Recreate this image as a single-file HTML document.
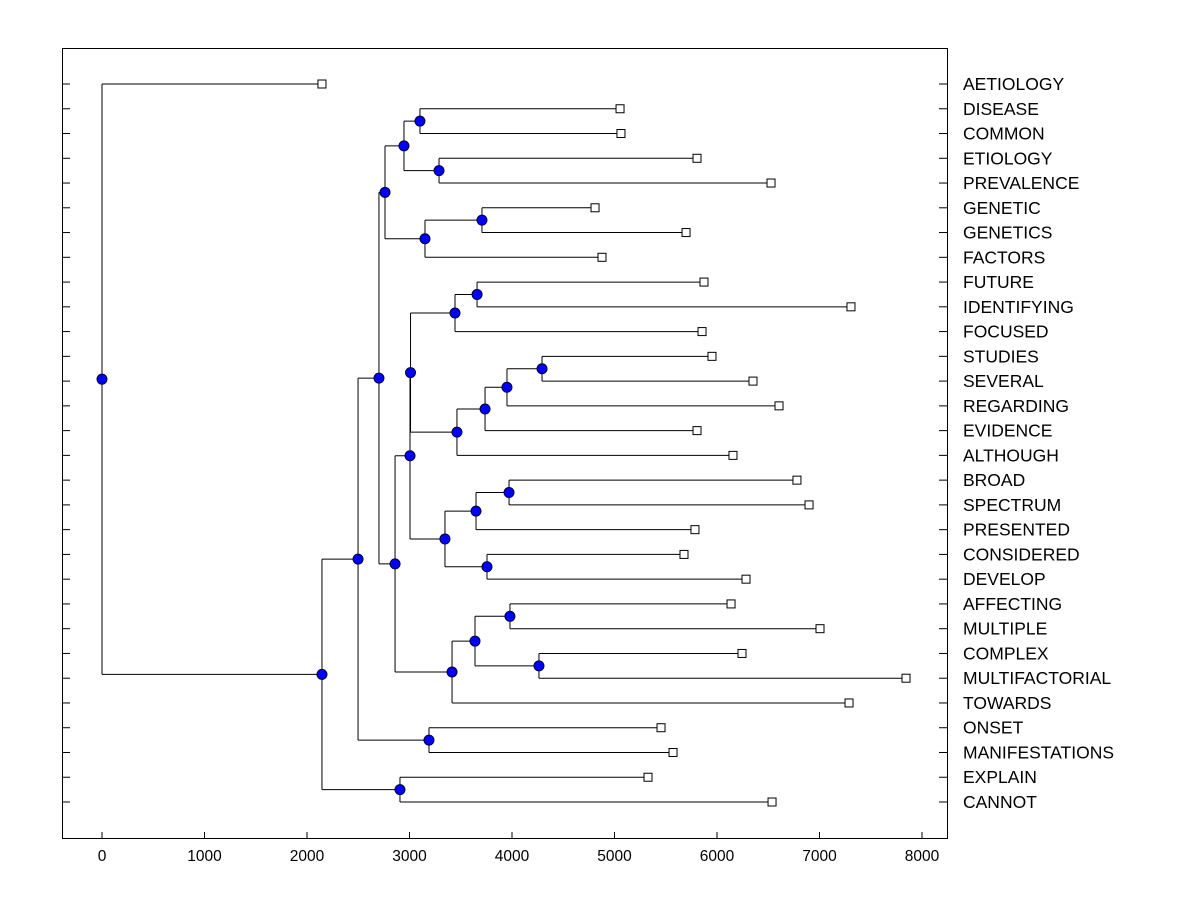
<!DOCTYPE html>
<html><head><meta charset="utf-8"><style>
body{margin:0;background:#fff;}
svg text{font-family:"Liberation Sans",Arial,sans-serif;}
</style></head><body>
<svg id="chart" width="1200" height="900">
<rect x="0" y="0" width="1200" height="900" fill="#fff"/>
<g id="g"></g>
</svg>
<script>
const leafNames=["AETIOLOGY","DISEASE","COMMON","ETIOLOGY","PREVALENCE","GENETIC","GENETICS","FACTORS","FUTURE","IDENTIFYING","FOCUSED","STUDIES","SEVERAL","REGARDING","EVIDENCE","ALTHOUGH","BROAD","SPECTRUM","PRESENTED","CONSIDERED","DEVELOP","AFFECTING","MULTIPLE","COMPLEX","MULTIFACTORIAL","TOWARDS","ONSET","MANIFESTATIONS","EXPLAIN","CANNOT"];
const leafValues=[2146,5054,5063,5805,6527,4810,5698,4878,5873,7307,5854,5951,6351,6605,5805,6156,6780,6898,5785,5678,6283,6137,7005,6244,7844,7288,5454,5571,5327,6537];
const xTicks=[0,1000,2000,3000,4000,5000,6000,7000,8000];
const tree={h:0,c:[{leaf:0},{h:2146,c:[
 {h:2498,c:[
  {h:2702,c:[
   {h:2761,c:[
    {h:2946,c:[{h:3102,c:[{leaf:1},{leaf:2}]},{h:3288,c:[{leaf:3},{leaf:4}]}]},
    {h:3151,c:[{h:3707,c:[{leaf:5},{leaf:6}]},{leaf:7}]}]},
   {h:2859,c:[
    {h:3005,c:[
     {h:3010,c:[
      {h:3444,c:[{h:3659,c:[{leaf:8},{leaf:9}]},{leaf:10}]},
      {h:3463,c:[{h:3737,c:[{h:3951,c:[{h:4293,c:[{leaf:11},{leaf:12}]},{leaf:13}]},{leaf:14}]},{leaf:15}]}]},
     {h:3346,c:[{h:3649,c:[{h:3971,c:[{leaf:16},{leaf:17}]},{leaf:18}]},{h:3756,c:[{leaf:19},{leaf:20}]}]}]},
    {h:3415,c:[{h:3639,c:[{h:3980,c:[{leaf:21},{leaf:22}]},{h:4263,c:[{leaf:23},{leaf:24}]}]},{leaf:25}]}]}]},
  {h:3190,c:[{leaf:26},{leaf:27}]}]},
 {h:2907,c:[{leaf:28},{leaf:29}]}]}]};
</script>
<script>
const NS="http://www.w3.org/2000/svg";
const g=document.getElementById('g');
const L=62,R=947,T=48,B=838;
const xs=v=>102+v*0.1025;
const yl=i=>84+i*(802-84)/29;
function mk(t,a,p){const e=document.createElementNS(NS,t);for(const k in a)e.setAttribute(k,a[k]);(p||g).appendChild(e);return e;}
const lines=mk('g',{});
const nodesG=mk('g',{});
const circles=[];
function draw(n){
 if(n.leaf!==undefined){return {x:xs(leafValues[n.leaf]),y:yl(n.leaf)};}
 const ch=n.c.map(draw);const x=xs(n.h);
 const ys=ch.map(c=>c.y);const y=(Math.min(...ys)+Math.max(...ys))/2;
 mk('line',{x1:x,x2:x,y1:Math.min(...ys),y2:Math.max(...ys),stroke:'#000','stroke-width':1},lines);
 ch.forEach(c=>mk('line',{x1:x,x2:c.x,y1:c.y,y2:c.y,stroke:'#000','stroke-width':1},lines));
 circles.push([x,y]);return {x,y};
}
draw(tree);
circles.forEach(([x,y])=>{const c=mk('circle',{cx:x,cy:y,r:5,fill:'#0000ff',stroke:'#000033','stroke-width':1},nodesG);

});
leafNames.forEach((nm,i)=>{
 const r=mk('rect',{x:xs(leafValues[i])-4,y:yl(i)-4,width:8,height:8,fill:'#fff',stroke:'#000'},nodesG);
 
 
 const t=mk('text',{x:963,y:yl(i)+6,'font-size':17.5,fill:'#000'});t.textContent=nm;
 
 
 mk('line',{x1:L,x2:L+8,y1:yl(i),y2:yl(i),stroke:'#000'});
 mk('line',{x1:R-8,x2:R,y1:yl(i),y2:yl(i),stroke:'#000'});
});
const fr=mk('rect',{x:L+0.5,y:T+0.5,width:R-L,height:B-T,fill:'none',stroke:'#000'});


xTicks.forEach(v=>{
 mk('line',{x1:xs(v),x2:xs(v),y1:B,y2:B-6,stroke:'#000'});
 const t=mk('text',{x:xs(v),y:861,'font-size':15.5,'text-anchor':'middle'});t.textContent=v;
 
 
});
</script>
</body></html>
